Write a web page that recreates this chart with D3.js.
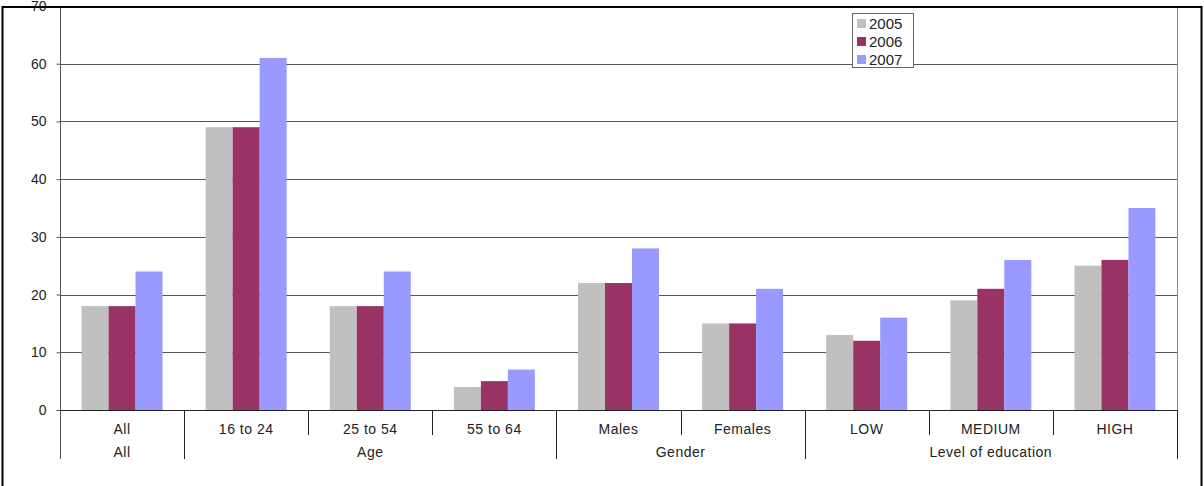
<!DOCTYPE html>
<html>
<head>
<meta charset="utf-8">
<style>
  body { margin: 0; background: #fff; }
  text { font-family: "Liberation Sans", Arial, sans-serif; fill: #222; }
</style>
</head>
<body>
<script src="https://d3js.org/d3.v7.js"></script>
<script>
const categories = ['All', '16 to 24', '25 to 54', '55 to 64', 'Males', 'Females', 'LOW', 'MEDIUM', 'HIGH']
const groupNames = ['All', 'Age', 'Gender', 'Level of education']
const groupSizes = [1, 3, 2, 3]
const series = ['2005', '2006', '2007']
const values2005 = [18, 49, 18, 4, 22, 15, 13, 19, 25]
const values2006 = [18, 49, 18, 5, 22, 15, 12, 21, 26]
const values2007 = [24, 61, 24, 7, 28, 21, 16, 26, 35]
const yTicks = [0, 10, 20, 30, 40, 50, 60, 70]

const colors = ['#c0c0c0', '#993366', '#9999ff']
const allValues = [values2005, values2006, values2007]

const w = 1204
const h = 486
const plotLeft = 60
const plotRight = 1177
const plotTop = 6
const plotBottom = 410

const svg = d3.select('body')
    .append('svg')
    .attr('width', w)
    .attr('height', h)

const xScale = d3.scaleBand()
    .domain(categories)
    .range([plotLeft, plotRight])
    .paddingInner(0)
    .paddingOuter(0)

const xInner = d3.scaleBand()
    .domain(series)
    .range([0, xScale.bandwidth()])
    .paddingInner(0)
    .paddingOuter(0.8)

const yScale = d3.scaleLinear()
    .domain([0, 70])
    .range([plotBottom, plotTop])

// gridlines
svg.selectAll('.grid')
    .data(yTicks.filter(d => d > 0))
    .enter()
    .append('line')
    .attr('x1', plotLeft)
    .attr('x2', plotRight)
    .attr('y1', d => Math.round(yScale(d)) + 0.5)
    .attr('y2', d => Math.round(yScale(d)) + 0.5)
    .attr('stroke', '#555')
    .attr('stroke-width', 1)

// right border of plot
svg.append('line')
    .attr('x1', plotRight + 0.5).attr('x2', plotRight + 0.5)
    .attr('y1', plotTop).attr('y2', plotBottom)
    .attr('stroke', '#888')

// y axis
const yAxis = d3.axisLeft(yScale)
    .tickValues(yTicks)
    .tickSize(4)
    .tickPadding(10)
svg.append('g')
    .attr('transform', 'translate(' + (plotLeft + 0.5) + ',0)')
    .call(yAxis)
    .call(g => g.select('.domain').remove())
    .call(g => g.selectAll('line').attr('stroke', '#555'))
    .call(g => g.selectAll('text').style('font-size', '14px').attr('fill', '#222')
        .style('font-family', '"Liberation Sans", Arial, sans-serif'))

svg.append('line')
    .attr('x1', plotLeft + 0.5).attr('x2', plotLeft + 0.5)
    .attr('y1', plotTop).attr('y2', 459)
    .attr('stroke', '#555')

// bars
series.forEach((s, i) => {
    svg.append('g')
        .selectAll('rect')
        .data(allValues[i])
        .enter()
        .append('rect')
        .attr('x', (d, j) => xScale(categories[j]) + xInner(s))
        .attr('y', d => yScale(d))
        .attr('width', xInner.bandwidth())
        .attr('height', d => plotBottom - yScale(d))
        .attr('fill', colors[i])
})

// x axis line
svg.append('line')
    .attr('x1', plotLeft).attr('x2', plotRight + 1)
    .attr('y1', plotBottom + 0.5).attr('y2', plotBottom + 0.5)
    .attr('stroke', '#222')

// category separators and labels
const groupStarts = []
let acc = 0
groupSizes.forEach(n => { groupStarts.push(acc); acc += n })

categories.forEach((c, j) => {
    const isGroupEdge = groupStarts.includes(j)
    if (j > 0) {
        svg.append('line')
            .attr('x1', Math.round(xScale(c)) + 0.5).attr('x2', Math.round(xScale(c)) + 0.5)
            .attr('y1', plotBottom).attr('y2', isGroupEdge ? 459 : 435)
            .attr('stroke', '#222')
    }
    svg.append('text')
        .attr('x', xScale(c) + xScale.bandwidth() / 2)
        .attr('y', 434)
        .attr('text-anchor', 'middle')
        .style('font-size', '14px')
        .style('letter-spacing', '0.5px')
        .text(c)
})
svg.append('line')
    .attr('x1', plotRight + 0.5).attr('x2', plotRight + 0.5)
    .attr('y1', plotBottom).attr('y2', 459)
    .attr('stroke', '#222')

groupNames.forEach((g, k) => {
    const x0 = xScale(categories[groupStarts[k]])
    const x1 = x0 + xScale.bandwidth() * groupSizes[k]
    svg.append('text')
        .attr('x', (x0 + x1) / 2)
        .attr('y', 457)
        .attr('text-anchor', 'middle')
        .style('font-size', '14px')
        .style('letter-spacing', '0.5px')
        .text(g)
})

// legend
const legend = svg.append('g').attr('transform', 'translate(852,13)')
legend.append('rect')
    .attr('x', 0.5).attr('y', 0.5)
    .attr('width', 61).attr('height', 54)
    .attr('fill', '#fff')
    .attr('stroke', '#666')
series.forEach((s, i) => {
    legend.append('rect')
        .attr('x', 5).attr('y', 6 + i * 18)
        .attr('width', 9).attr('height', 9)
        .attr('fill', colors[i])
    legend.append('text')
        .attr('x', 17).attr('y', 16 + i * 18)
        .style('font-size', '15px')
        .text(s)
})

// outer frame, drawn last so it sits over the top label
svg.append('rect')
    .attr('x', 2.5)
    .attr('y', 7)
    .attr('width', 1199)
    .attr('height', 500)
    .attr('fill', 'none')
    .attr('stroke', '#000')
    .attr('stroke-width', 2)
</script>
</body>
</html>
